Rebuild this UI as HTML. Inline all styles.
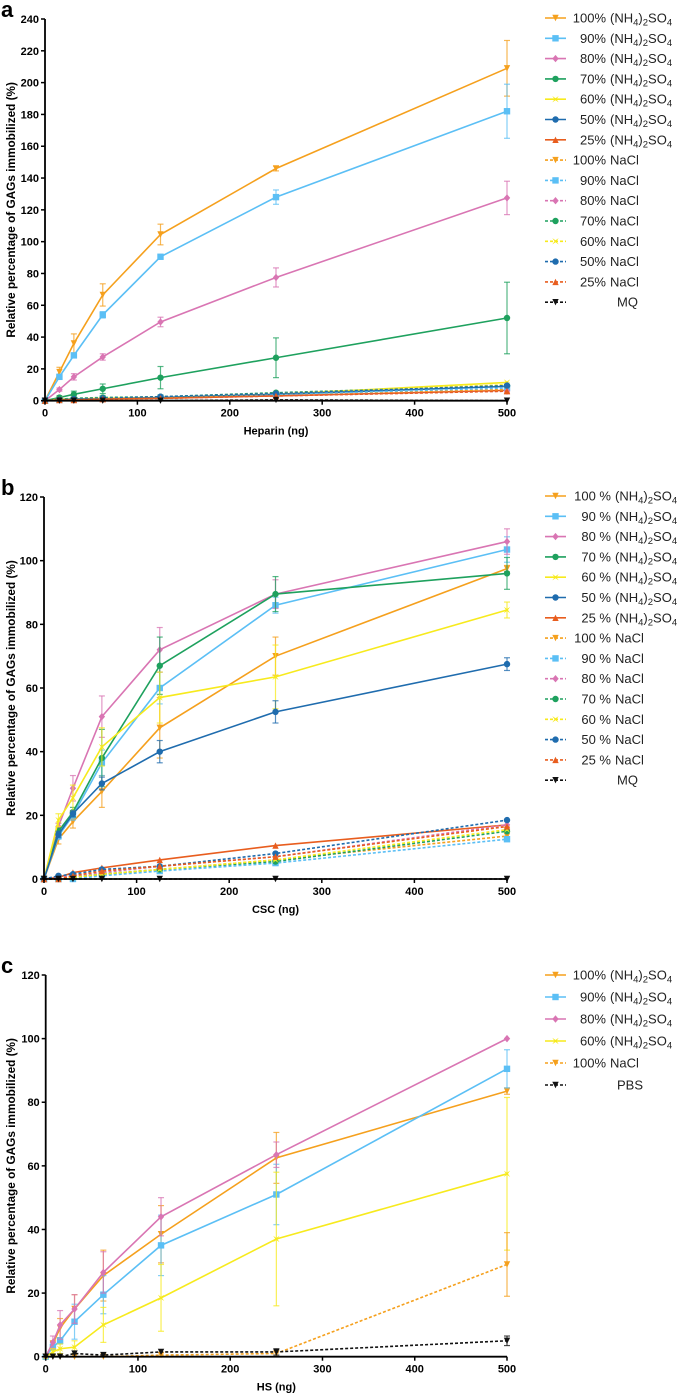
<!DOCTYPE html>
<html><head><meta charset="utf-8"><style>
html,body{margin:0;padding:0;background:#fff;}
svg{display:block;font-family:"Liberation Sans",Arial,sans-serif;}
</style></head><body>
<svg id="fig" width="685" height="1396" viewBox="0 0 685 1396" xmlns="http://www.w3.org/2000/svg"></svg>
<script>
// ---- shared x values ----
const xAB = [0, 15.6, 31.25, 62.5, 125, 250, 500];
const xC = [0, 7.8, 15.6, 31.25, 62.5, 125, 250, 500];
const ticksX = [0, 100, 200, 300, 400, 500];
const ticksYA = [0,20,40,60,80,100,120,140,160,180,200,220,240];
const ticksYBC = [0,20,40,60,80,100,120];

// ---- panel a (Heparin) ----
const aN100 = [0,18,36,66.5,104.5,146,209];   const aN100e = [0,3,6,7,6.5,1.5,17.5];
const aN90  = [0,15,28.5,54,90.5,128,182];    const aN90e  = [0,1,1,2,1,4.5,17];
const aN80  = [0,7,15,27.5,49.5,77.5,127.5];  const aN80e  = [0,1,2,2,3,6,10.5];
const aN70  = [0,2,4,7.5,14.5,27,52];         const aN70e  = [0,1,2,3,7,12.5,22.5];
const aN60  = [0,1,1,1.5,2,4,11.5];
const aN50  = [0,0.5,1,1,2,4,9];
const aN25  = [0,0.5,0.5,1,1.5,3,6.5];
const aC100 = [0,0.5,0.5,1,1.5,3.5,7];
const aC90  = [0,0.5,1,1.5,2,4,8];
const aC80  = [0,0.5,0.5,1,1.5,3,6];
const aC70  = [0,1,1.5,2,2.5,5,9.5];
const aC60  = [0,0.5,1,1.5,2,4.5,10];
const aC50  = [0,0.5,1,1.5,2.5,4.5,9.5];
const aC25  = [0,0.5,0.5,1,1.5,3,6];
const aMQ   = [0,0,0,0,0,0.5,0];

// ---- panel b (CSC) ----
const bN100 = [0,12.5,18,27.5,47.5,70,97.5];  const bN100e = [0,1.5,2,5,9.5,6,1];
const bN90  = [0,13.5,20,36.5,60,86,103.5];   const bN90e  = [0,1,1.5,4,5,2.5,4];
const bN80  = [0,16.5,28.5,51,72,89.5,106];   const bN80e  = [0,1,4,6.5,7,4.5,4];
const bN70  = [0,15,21,38,67,89.5,96];        const bN70e  = [0,1,1.5,9,9,5.5,5];
const bN60  = [0,18.5,25.5,41.5,57,63.5,84.5];const bN60e  = [0,2,4,6,8,10,2.5];
const bN50  = [0,14,20.5,30,40,52.5,67.5];    const bN50e  = [0,1,1,2,3.5,3.5,2];
const bN25  = [0,0.5,2,3.5,6,10.5,17];
const bC100 = [0,0,0.5,1.5,3,6,13.5];
const bC90  = [0,0,0,1,2.5,5,12.5];
const bC80  = [0,0.5,1,2,4,7,17];
const bC70  = [0,0,0.5,1.5,3,5.5,15];
const bC60  = [0,0,0.5,1.5,3,6,15.5];
const bC50  = [0,1,1.5,3,4,8,18.5];
const bC25  = [0,0,1,2.5,4,7,16.5];
const bMQ   = [0,0,0,0,0,0,0];

// ---- panel c (HS) ----
const cN100 = [0,4,9,15,25.5,38.5,62.5,83.5]; const cN100e = [0,1,3,4.5,8,9,8,1];
const cN90  = [0,3,5,11,19.5,35,51,90.5];     const cN90e  = [0,1,1,5.5,6,9.5,9.5,6];
const cN80  = [0,4.5,10,15,26.5,44,63.5,100]; const cN80e  = [0,2,4.5,4.5,6.5,6,4,0];
const cN60  = [0,1.5,2.5,3,10,18.5,37,57.5];  const cN60e  = [0,1,1.5,2,5.5,10.5,21,24];
const cC100 = [0,0,0,0,0,0.5,1,29];           const cC100e = [0,0,0,0,0,0,0,10];
const cPBS  = [0,0,0,1,0.5,1.5,1.5,5];        const cPBSe  = [0,0,0,0,0,0,1,1.5];

const COL = {o:"#f5a01d", lb:"#5bbff5", pk:"#d975b3", gr:"#1ea15e", ye:"#f7ea1d", db:"#1f6cae", rd:"#e85d1e", bk:"#111"};
const NS = "http://www.w3.org/2000/svg";
const svg = document.getElementById('fig');
function mk(tag, attrs, parent){ const e=document.createElementNS(NS,tag); for(const k in attrs) e.setAttribute(k,attrs[k]); (parent||svg).appendChild(e); return e; }

function marker(g, type, x, y, c){
  let e;
  const s=3.2;
  if(type==='tri') e=mk('polygon',{points:`${x-s},${y-s} ${x+s},${y-s} ${x},${y+s}`,fill:c},g);
  else if(type==='utri') e=mk('polygon',{points:`${x-s},${y+s} ${x+s},${y+s} ${x},${y-s}`,fill:c},g);
  else if(type==='sq') e=mk('rect',{x:x-s,y:y-s,width:2*s,height:2*s,fill:c},g);
  else if(type==='dia') e=mk('polygon',{points:`${x},${y-s-0.5} ${x+s},${y} ${x},${y+s+0.5} ${x-s},${y}`,fill:c},g);
  else if(type==='star') e=mk('polygon',{points:`${x-s},${y-s} ${x},${y-1} ${x+s},${y-s} ${x+1},${y} ${x+s},${y+s} ${x},${y+1} ${x-s},${y+s} ${x-1},${y}`,fill:c},g);
  else e=mk('circle',{cx:x,cy:y,r:s,fill:c},g);
  
  
}

function panel(p){
  const g = mk('g',{});
  
  
  const sx = v => p.x0 + (p.x1-p.x0)*v/500;
  const sy = v => p.y0 - (p.y0-p.yt)*v/p.ymax;
  const L = mk('text',{x:1,y:p.yt-2,'font-size':22,'font-weight':'bold',fill:'#000'},g);
  L.textContent = p.letter;
   
  p.series.forEach(s=>{
    const sg = mk('g',{},g);
    
    
    const pts = s.y.map((v,i)=>`${sx(p.xs[i])},${sy(v)}`).join(' ');
    const pl = mk('polyline',{points:pts,fill:'none',stroke:s.c,'stroke-width':1.6,'stroke-dasharray':s.dash?'3,2':'none'},sg);
    
    
    if(s.e){
      s.e.forEach((ev,i)=>{
        if(!ev) return;
        const x=sx(p.xs[i]), y1=sy(s.y[i]+ev), y2=sy(Math.max(0,s.y[i]-ev));
        mk('line',{x1:x,x2:x,y1:y1,y2:y2,stroke:s.c,'stroke-width':1.2,opacity:0.75},sg);
        mk('line',{x1:x-3,x2:x+3,y1:y1,y2:y1,stroke:s.c,'stroke-width':1.2,opacity:0.75},sg);
        mk('line',{x1:x-3,x2:x+3,y1:y2,y2:y2,stroke:s.c,'stroke-width':1.2,opacity:0.75},sg);
      });
    }
    s.y.forEach((v,i)=>marker(sg,s.m,sx(p.xs[i]),sy(v),s.c));
  });
  const ya = mk('line',{x1:p.x0,x2:p.x0,y1:p.yt,y2:p.y0,stroke:'#000','stroke-width':1.8},g);
   
  const xa = mk('line',{x1:p.x0,x2:p.x1,y1:p.y0,y2:p.y0,stroke:'#000','stroke-width':1.8},g);
   
  p.ty.forEach(t=>{
    mk('line',{x1:p.x0-4,x2:p.x0,y1:sy(t),y2:sy(t),stroke:'#000','stroke-width':1.5},g);
    const tt = mk('text',{x:p.x0-6,y:sy(t)+4,'font-size':11,'font-weight':'bold','text-anchor':'end'},g);
    tt.textContent=t;
     
  });
  ticksX.forEach(t=>{
    mk('line',{x1:sx(t),x2:sx(t),y1:p.y0,y2:p.y0+4,stroke:'#000','stroke-width':1.5},g);
    const tt = mk('text',{x:sx(t),y:p.y0+16,'font-size':11,'font-weight':'bold','text-anchor':'middle'},g);
    tt.textContent=t;
     
  });
  const xt = mk('text',{x:(p.x0+p.x1)/2,y:p.y0+34,'font-size':11,'font-weight':'bold','text-anchor':'middle'},g);
  xt.textContent = p.xlabel;
   
  const yc = (p.y0+p.yt)/2;
  const yt = mk('text',{x:15,y:yc,'font-size':11.8,'font-weight':'bold','text-anchor':'middle',transform:`rotate(-90 15 ${yc})`},g);
  yt.textContent = 'Relative percentage of GAGs immobilized (%)';
   
  p.series.forEach((s,i)=>{
    const y = p.ly + i*p.ls;
    const lg = mk('g',{},g);
    
    
    mk('line',{x1:545,x2:566,y1:y,y2:y,stroke:s.c,'stroke-width':1.6,'stroke-dasharray':s.dash?'3,2':'none'},lg);
    marker(lg,s.m,555.5,y,s.c);
    if(s.pct){
      const a = mk('text',{x:p.px,y:y+4.5,'font-size':13,'text-anchor':'end',fill:'#222'},lg);
      a.textContent = s.pct;
      const b = mk('text',{x:p.px+4,y:y+4.5,'font-size':13,fill:'#222'},lg);
      if(s.salt==='N'){
        b.innerHTML = '(NH<tspan font-size="9.5" dy="3">4</tspan><tspan dy="-3">)</tspan><tspan font-size="9.5" dy="3">2</tspan><tspan dy="-3">SO</tspan><tspan font-size="9.5" dy="3">4</tspan>';
      } else b.textContent = 'NaCl';
    } else {
      const b = mk('text',{x:617,y:y+4.5,'font-size':13,fill:'#222'},lg);
      b.textContent = s.lab;
    }
  });
}

function ser(id,y,e,c,m,dash,pct,salt,lab){ return {id,y,e,c,m,dash,pct,salt,lab}; }

panel({name:'panel-a-heparin',letter:'a',xs:xAB,x0:45,x1:507,y0:400.7,yt:19,ymax:240,ty:ticksYA,xlabel:'Heparin (ng)',ly:18,ls:20.3,px:606,
series:[
 ser('nh4-100',aN100,aN100e,COL.o,'tri',0,'100%','N'),
 ser('nh4-90',aN90,aN90e,COL.lb,'sq',0,'90%','N'),
 ser('nh4-80',aN80,aN80e,COL.pk,'dia',0,'80%','N'),
 ser('nh4-70',aN70,aN70e,COL.gr,'circ',0,'70%','N'),
 ser('nh4-60',aN60,null,COL.ye,'star',0,'60%','N'),
 ser('nh4-50',aN50,null,COL.db,'circ',0,'50%','N'),
 ser('nh4-25',aN25,null,COL.rd,'utri',0,'25%','N'),
 ser('nacl-100',aC100,null,COL.o,'tri',1,'100%','C'),
 ser('nacl-90',aC90,null,COL.lb,'sq',1,'90%','C'),
 ser('nacl-80',aC80,null,COL.pk,'dia',1,'80%','C'),
 ser('nacl-70',aC70,null,COL.gr,'circ',1,'70%','C'),
 ser('nacl-60',aC60,null,COL.ye,'star',1,'60%','C'),
 ser('nacl-50',aC50,null,COL.db,'circ',1,'50%','C'),
 ser('nacl-25',aC25,null,COL.rd,'utri',1,'25%','C'),
 ser('mq',aMQ,null,COL.bk,'tri',1,null,null,'MQ')
]});

panel({name:'panel-b-csc',letter:'b',xs:xAB,x0:44,x1:507,y0:879,yt:497,ymax:120,ty:ticksYBC,xlabel:'CSC (ng)',ly:496,ls:20.3,px:611,
series:[
 ser('nh4-100',bN100,bN100e,COL.o,'tri',0,'100 %','N'),
 ser('nh4-90',bN90,bN90e,COL.lb,'sq',0,'90 %','N'),
 ser('nh4-80',bN80,bN80e,COL.pk,'dia',0,'80 %','N'),
 ser('nh4-70',bN70,bN70e,COL.gr,'circ',0,'70 %','N'),
 ser('nh4-60',bN60,bN60e,COL.ye,'star',0,'60 %','N'),
 ser('nh4-50',bN50,bN50e,COL.db,'circ',0,'50 %','N'),
 ser('nh4-25',bN25,null,COL.rd,'utri',0,'25 %','N'),
 ser('nacl-100',bC100,null,COL.o,'tri',1,'100 %','C'),
 ser('nacl-90',bC90,null,COL.lb,'sq',1,'90 %','C'),
 ser('nacl-80',bC80,null,COL.pk,'dia',1,'80 %','C'),
 ser('nacl-70',bC70,null,COL.gr,'circ',1,'70 %','C'),
 ser('nacl-60',bC60,null,COL.ye,'star',1,'60 %','C'),
 ser('nacl-50',bC50,null,COL.db,'circ',1,'50 %','C'),
 ser('nacl-25',bC25,null,COL.rd,'utri',1,'25 %','C'),
 ser('mq',bMQ,null,COL.bk,'tri',1,null,null,'MQ')
]});

panel({name:'panel-c-hs',letter:'c',xs:xC,x0:45.7,x1:507,y0:1356.7,yt:975,ymax:120,ty:ticksYBC,xlabel:'HS (ng)',ly:975,ls:22,px:606,
series:[
 ser('nh4-100',cN100,cN100e,COL.o,'tri',0,'100%','N'),
 ser('nh4-90',cN90,cN90e,COL.lb,'sq',0,'90%','N'),
 ser('nh4-80',cN80,cN80e,COL.pk,'dia',0,'80%','N'),
 ser('nh4-60',cN60,cN60e,COL.ye,'star',0,'60%','N'),
 ser('nacl-100',cC100,cC100e,COL.o,'tri',1,'100%','C'),
 ser('pbs',cPBS,cPBSe,COL.bk,'tri',1,null,null,'PBS')
]});
</script>
</body></html>
